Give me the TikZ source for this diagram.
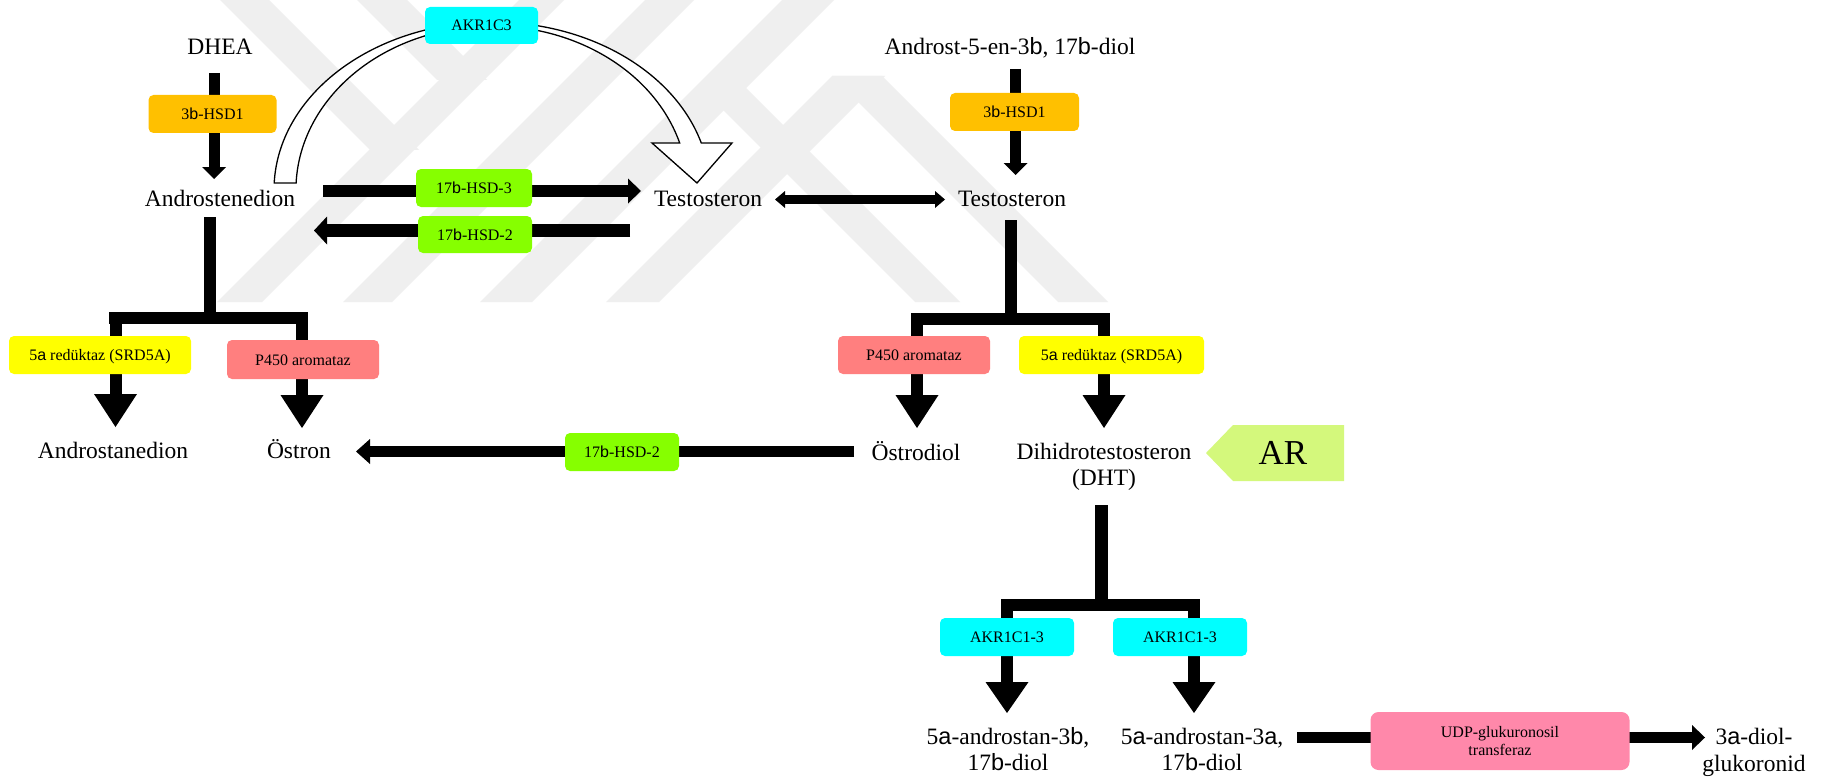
\documentclass[tikz,border=0pt]{standalone}
\usepackage{fontspec}
\setmainfont{Liberation Serif}
\newfontfamily\grk{Liberation Sans}
\newcommand{\grA}{{\grk a}}
\newcommand{\grB}{{\grk b}}
\usetikzlibrary{arrows.meta,calc}
\definecolor{wmgray}{HTML}{EFEFEF}
\definecolor{corange}{HTML}{FFC000}
\definecolor{ccyan}{HTML}{00FFFF}
\definecolor{cgreen}{HTML}{86FF00}
\definecolor{cyellow}{HTML}{FFFF00}
\definecolor{csalmon}{HTML}{FF7F7F}
\definecolor{cpink}{HTML}{FF88AA}
\definecolor{carg}{HTML}{D4F87C}
\begin{document}
\begin{tikzpicture}[x=1pt,y=-1pt,
 txt/.style={font=\fontsize{23.5}{26}\selectfont, inner sep=0pt, text height=15.5pt, text depth=0pt},
 txtt/.style={font=\fontsize{23.5}{26}\selectfont, inner sep=0pt, align=center},
 enz/.style={rounded corners=5pt, inner sep=0pt, font=\fontsize{16}{18}\selectfont, text height=11pt, text depth=0pt, minimum height=38pt},
 bar/.style={line width=12pt},
 bigarr/.style={line width=12pt, -{Triangle[length=33pt,width=43pt,line width=0pt]}},
 smallarr/.style={line width=11pt, -{Triangle[length=13pt,width=25pt,line width=0pt]}},
 wm/.style={fill=wmgray}
]
\useasboundingbox (0,0) rectangle (1823,781);
\fill[white] (0,0) rectangle (1823,781);
% watermark
\fill[wm] (217,302) -- (262,302) -- (564,0) -- (519,0) -- cycle;
\fill[wm] (343,302) -- (392,302) -- (694,0) -- (645,0) -- cycle;
\fill[wm] (480,302) -- (532,302) -- (834,0) -- (782,0) -- cycle;
\fill[wm] (606,302) -- (659,302) -- (885,76) -- (832,76) -- cycle;
\fill[wm] (915,302) -- (960,302) -- (744,86) -- (699,86) -- cycle;
\fill[wm] (1058,302) -- (1108,302) -- (882,76) -- (832,76) -- cycle;
\fill[wm] (220,0) -- (269,0) -- (419,150) -- (370,150) -- cycle;
\fill[wm] (357,0) -- (407,0) -- (487,80) -- (437,80) -- cycle;

% text nodes
\node[txt] (dhea) at (220,47) {DHEA};
\node[txt] (andro) at (220,199) {Androstenedion};
\node[txt] (testoA) at (708,199) {Testosteron};
\node[txt] (adiol) at (1010,47) {Androst-5-en-3\grB, 17\grB-diol};
\node[txt] (testoB) at (1012,199) {Testosteron};
\node[txt] (astane) at (113,451) {Androstanedion};
\node[txt] (ostron) at (299,451) {Östron};
\node[txt] (ostrodiol) at (916,453) {Östrodiol};
\node[txtt] (dht) at (1104,467) {Dihidrotestosteron\\(DHT)};
\node[txtt] (pb) at (1008,749.5) {5\grA-androstan-3\grB,\\17\grB-diol};
\node[txtt] (pa) at (1202,749.5) {5\grA-androstan-3\grA,\\17\grB-diol};
\node[txtt, font=\fontsize{23.5}{27}\selectfont] (gluc) at (1754,752.5) {3\grA-diol-\\glukoronid};

% junction coordinates
\coordinate (j1top) at (210,217);
\coordinate (j1) at (210,318);
\coordinate (j1l) at (109,318);
\coordinate (j1r) at (308,318);
\coordinate (j2top) at (1011,220);
\coordinate (j2) at (1011,319);
\coordinate (j2l) at (912,319);
\coordinate (j2r) at (1109,319);
\coordinate (j3top) at (1101.5,505);
\coordinate (j3) at (1101.5,605);
\coordinate (j3l) at (1001,605);
\coordinate (j3r) at (1200,605);

% hollow AKR1C3 arrow
\coordinate (arcc) at (492,190);
\draw[line width=1.3pt, fill=white, line join=miter]
  (arcc) ++(182.4:218 and 168)
  arc[start angle=182.4, end angle=343.75, x radius=218, y radius=168]
  -- (732,143) -- (697,183) -- (652,143) -- (679.7,143)
  arc[start angle=343.35, end angle=182.45, x radius=196, y radius=164]
  -- cycle;

% connectors
\draw[line width=11pt, -{Triangle[length=12pt,width=24pt,line width=0pt]}] (214,73) -- (214,179);
\draw[bar] (j1top) -- (j1);
\draw[bar] (j1l) -- (j1r);
\draw[bigarr] ($(j1l)+(6.5,-6)$) -- (115.5,427);
\draw[bigarr] ($(j1r)+(-6,-6)$) -- (302,428);
\draw[line width=12pt, -{Triangle[length=13pt,width=25pt,line width=0pt]}] (323,191) -- (641,191);
\draw[line width=13pt, -{Triangle[length=13pt,width=28pt,line width=0pt]}] (630,230.5) -- (314,230.5);
\draw[line width=9pt, {Triangle[length=10pt,width=17pt,line width=0pt]}-{Triangle[length=10pt,width=17pt,line width=0pt]}] (775,199.5) -- (945,199.5);
\draw[line width=11pt, -{Triangle[length=12pt,width=24pt,line width=0pt]}] (1015.5,69) -- (1015.5,175);
\draw[bar] (j2top) -- (j2);
\draw[bar] (j2l) -- (j2r);
\draw[bigarr] ($(j2l)+(5,-6)$) -- (917,428);
\draw[bigarr] ($(j2r)+(-5,-6)$) -- (1104,428);
\draw[line width=11pt, -{Triangle[length=14pt,width=25pt,line width=0pt]}] (854,451.5) -- (356,451.5);
\draw[line width=13pt] (j3top) -- (j3);
\draw[bar] (j3l) -- (j3r);
\draw[line width=12pt, -{Triangle[length=31pt,width=43pt,line width=0pt]}] ($(j3l)+(6,-6)$) -- (1007,713);
\draw[line width=12pt, -{Triangle[length=31pt,width=43pt,line width=0pt]}] ($(j3r)+(-6,-6)$) -- (1194,713);
\draw[smallarr] (1297,737.5) -- (1705,737.5);

% enzyme boxes
\node[enz, fill=corange, minimum width=128pt] (hsdA) at (212.5,114) {3\grB-HSD1};
\node[enz, fill=ccyan, minimum width=113pt, minimum height=37pt] (akr3) at (481.5,25.5) {AKR1C3};
\node[enz, fill=cgreen, minimum width=116pt] (hsd3) at (474,188) {17\grB-HSD-3};
\node[enz, fill=cgreen, minimum width=114pt, minimum height=37pt] (hsd2a) at (475,234.5) {17\grB-HSD-2};
\node[enz, fill=corange, minimum width=129pt] (hsdB) at (1014.5,112) {3\grB-HSD1};
\node[enz, fill=cyellow, minimum width=182pt] (srdA) at (100,355) {5\grA{} redüktaz (SRD5A)};
\node[enz, fill=csalmon, minimum width=152pt, minimum height=39pt] (p450A) at (303,359.5) {P450 aromataz};
\node[enz, fill=cgreen, minimum width=114pt] (hsd2b) at (622,452) {17\grB-HSD-2};
\node[enz, fill=csalmon, minimum width=152pt] (p450B) at (914,355) {P450 aromataz};
\node[enz, fill=cyellow, minimum width=185pt] (srdB) at (1111.5,355) {5\grA{} redüktaz (SRD5A)};
\node[enz, fill=ccyan, minimum width=134pt] (akrL) at (1007,637) {AKR1C1-3};
\node[enz, fill=ccyan, minimum width=134pt] (akrR) at (1180,637) {AKR1C1-3};
\node[rounded corners=8pt, fill=cpink, minimum width=259pt, minimum height=58pt, inner sep=0pt, align=center, font=\fontsize{16}{18}\selectfont] (udp) at (1500,741) {UDP-glukuronosil\\transferaz};

% AR
\fill[carg] (1206,453) -- (1233,425) -- (1344,425) -- (1344,481) -- (1233,481) -- cycle;
\node[font=\fontsize{35}{40}\selectfont, inner sep=0pt, text height=23pt, text depth=0pt] (ar) at (1283,453) {AR};
\end{tikzpicture}
\end{document}
